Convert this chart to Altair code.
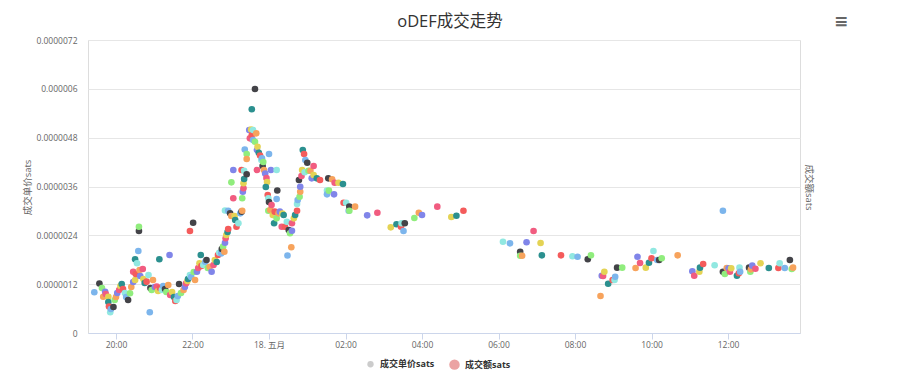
import altair as alt
import pandas as pd

FONT = "Open Sans, Noto Sans CJK SC"

title_text = "oDEF成交走势"
left_title = "成交单价sats"
right_title = "成交额sats"
legend_labels = ["成交单价sats", "成交额sats"]
legend_colors = ["#cccccc", "#eba3a3"]
palette = ["#7cb5ec", "#434348", "#90ed7d", "#f7a35c", "#8085e9",
           "#f15c80", "#e4d354", "#2b908f", "#f45b5b", "#91e8e1"]

# trade time (May 2018, local time)
times = [
    "05-17 19:26", "05-17 19:34", "05-17 19:38", "05-17 19:40", "05-17 19:43", "05-17 19:44", "05-17 19:48", "05-17 19:48",
    "05-17 19:49", "05-17 19:51", "05-17 19:52", "05-17 19:56", "05-17 19:58", "05-17 20:00", "05-17 20:02", "05-17 20:05",
    "05-17 20:07", "05-17 20:09", "05-17 20:11", "05-17 20:14", "05-17 20:16", "05-17 20:19", "05-17 20:22", "05-17 20:24",
    "05-17 20:27", "05-17 20:27", "05-17 20:30", "05-17 20:30", "05-17 20:31", "05-17 20:33", "05-17 20:35", "05-17 20:36",
    "05-17 20:36", "05-17 20:37", "05-17 20:38", "05-17 20:42", "05-17 20:43", "05-17 20:45", "05-17 20:48", "05-17 20:51",
    "05-17 20:53", "05-17 20:54", "05-17 20:56", "05-17 20:58", "05-17 21:01", "05-17 21:04", "05-17 21:06", "05-17 21:08",
    "05-17 21:09", "05-17 21:12", "05-17 21:14", "05-17 21:17", "05-17 21:19", "05-17 21:22", "05-17 21:24", "05-17 21:25",
    "05-17 21:28", "05-17 21:31", "05-17 21:33", "05-17 21:35", "05-17 21:37", "05-17 21:39", "05-17 21:42", "05-17 21:46",
    "05-17 21:48", "05-17 21:50", "05-17 21:52", "05-17 21:53", "05-17 21:56", "05-17 21:56", "05-17 21:58", "05-17 22:01",
    "05-17 22:02", "05-17 22:04", "05-17 22:07", "05-17 22:09", "05-17 22:11", "05-17 22:13", "05-17 22:14", "05-17 22:17",
    "05-17 22:20", "05-17 22:22", "05-17 22:24", "05-17 22:27", "05-17 22:30", "05-17 22:33", "05-17 22:35", "05-17 22:38",
    "05-17 22:40", "05-17 22:42", "05-17 22:45", "05-17 22:46", "05-17 22:48", "05-17 22:50", "05-17 22:51", "05-17 22:52",
    "05-17 22:53", "05-17 22:55", "05-17 22:56", "05-17 22:51", "05-17 22:56", "05-17 22:59", "05-17 23:01", "05-17 23:01",
    "05-17 23:04", "05-17 23:04", "05-17 23:06", "05-17 23:07", "05-17 23:09", "05-17 23:12", "05-17 23:15", "05-17 23:17",
    "05-17 23:18", "05-17 23:18", "05-17 23:19", "05-17 23:20", "05-17 23:20", "05-17 23:21", "05-17 23:17", "05-17 23:21",
    "05-17 23:22", "05-17 23:25", "05-17 23:25", "05-17 23:25", "05-17 23:29", "05-17 23:30", "05-17 23:32", "05-17 23:33",
    "05-17 23:33", "05-17 23:35", "05-17 23:35", "05-17 23:38", "05-17 23:38", "05-17 23:40", "05-17 23:41", "05-17 23:41",
    "05-17 23:42", "05-17 23:44", "05-17 23:46", "05-17 23:48", "05-17 23:49", "05-17 23:50", "05-17 23:51", "05-17 23:52",
    "05-17 23:54", "05-17 23:56", "05-17 23:57", "05-17 23:55", "05-17 23:58", "05-17 23:59", "05-18 00:00", "05-18 00:00",
    "05-17 23:59", "05-18 00:02", "05-18 00:03", "05-18 00:04", "05-18 00:06", "05-18 00:08", "05-18 00:09", "05-18 00:12",
    "05-18 00:12", "05-18 00:13", "05-18 00:12", "05-18 00:15", "05-18 00:17", "05-18 00:20", "05-18 00:21", "05-18 00:23",
    "05-18 00:25", "05-18 00:28", "05-18 00:29", "05-18 00:31", "05-18 00:33", "05-18 00:35", "05-18 00:36", "05-18 00:36",
    "05-18 00:39", "05-18 00:41", "05-18 00:44", "05-18 00:44", "05-18 00:45", "05-18 00:47", "05-18 00:48", "05-18 00:49",
    "05-18 00:49", "05-18 00:51", "05-18 00:52", "05-18 00:53", "05-18 00:55", "05-18 00:56", "05-18 00:57", "05-18 01:00",
    "05-18 01:02", "05-18 01:05", "05-18 01:07", "05-18 01:10", "05-18 01:10", "05-18 01:15", "05-18 01:20", "05-18 01:31",
    "05-18 01:31", "05-18 01:33", "05-18 01:34", "05-18 01:39", "05-18 01:42", "05-18 01:43", "05-18 01:49", "05-18 01:56",
    "05-18 01:57", "05-18 02:01", "05-18 02:05", "05-18 02:06", "05-18 02:06", "05-18 02:15", "05-18 02:34", "05-18 02:50",
    "05-18 03:11", "05-18 03:20", "05-18 03:27", "05-18 03:28", "05-18 03:31", "05-18 03:33", "05-18 03:48", "05-18 03:55",
    "05-18 04:00", "05-18 04:24", "05-18 04:46", "05-18 04:54", "05-18 05:05", "05-18 06:07", "05-18 06:18", "05-18 06:34",
    "05-18 06:34", "05-18 06:37", "05-18 06:44", "05-18 06:55", "05-18 07:06", "05-18 07:08", "05-18 07:38", "05-18 07:56",
    "05-18 08:04", "05-18 08:20", "05-18 08:25", "05-18 08:40", "05-18 08:42", "05-18 08:44", "05-18 08:46", "05-18 08:52",
    "05-18 08:59", "05-18 09:02", "05-18 09:03", "05-18 09:06", "05-18 09:14", "05-18 09:35", "05-18 09:38", "05-18 09:42",
    "05-18 09:51", "05-18 09:56", "05-18 10:00", "05-18 10:03", "05-18 10:09", "05-18 10:12", "05-18 10:16", "05-18 10:41",
    "05-18 11:04", "05-18 11:07", "05-18 11:15", "05-18 11:16", "05-18 11:21", "05-18 11:39", "05-18 11:52", "05-18 11:52",
    "05-18 11:55", "05-18 11:58", "05-18 12:01", "05-18 12:03", "05-18 12:05", "05-18 12:14", "05-18 12:17", "05-18 12:18",
    "05-18 12:19", "05-18 12:33", "05-18 12:35", "05-18 12:36", "05-18 12:38", "05-18 12:43", "05-18 12:51", "05-18 13:04",
    "05-18 13:19", "05-18 13:21", "05-18 13:29", "05-18 13:37", "05-18 13:40", "05-18 13:42",
]

# unit price, in millionths of a sat
price_micro = [
    1.000, 1.216, 1.106, 0.892, 1.015, 0.958, 0.892, 0.762,
    0.651, 0.509, 0.590, 0.639, 0.811, 0.885, 0.983, 1.057,
    1.155, 1.204, 1.081, 0.983, 0.885, 0.811, 0.976, 1.130,
    1.253, 1.506, 1.302, 1.811, 1.450, 1.713, 2.015, 2.506,
    2.612, 1.548, 1.401, 1.573, 1.327, 1.229, 1.261, 1.425,
    0.509, 1.106, 1.057, 1.302, 1.130, 1.138, 1.032, 1.811,
    1.106, 1.057, 1.155, 1.081, 1.007, 1.180, 1.917, 0.934,
    1.007, 0.885, 0.786, 0.811, 0.909, 1.204, 0.983, 1.057,
    1.130, 1.221, 1.278, 1.327, 2.506, 1.425, 1.376, 2.710,
    1.499, 1.302, 1.506, 1.597, 1.713, 1.917, 1.646, 1.671,
    1.752, 1.794, 1.597, 1.629, 1.506, 1.671, 1.794, 1.745,
    1.917, 1.973, 1.958, 2.064, 2.121, 1.998, 2.219, 2.327,
    2.408, 2.482, 2.556, 3.010, 3.005, 2.941, 3.703, 2.875,
    4.005, 3.310, 2.875, 2.777, 2.612, 2.696, 2.941, 2.981,
    3.310, 3.005, 3.472, 3.556, 3.679, 3.784, 4.005, 3.988,
    4.509, 3.900, 4.399, 4.276, 4.988, 4.784, 5.001, 5.497,
    4.865, 4.988, 4.743, 5.996, 4.701, 4.907, 4.497, 4.005,
    4.578, 4.430, 4.362, 4.251, 4.293, 4.104, 4.202, 4.005,
    3.919, 3.809, 3.711, 3.588, 3.391, 3.310, 4.399, 3.219,
    3.005, 3.022, 4.005, 3.145, 2.900, 2.696, 2.981, 4.005,
    3.293, 3.502, 2.818, 2.941, 2.981, 2.612, 2.936, 2.900,
    2.612, 2.735, 1.904, 2.531, 2.450, 2.106, 2.514, 2.696,
    2.818, 2.900, 3.005, 3.170, 3.268, 3.760, 3.349, 3.472,
    3.595, 3.858, 4.005, 4.497, 4.399, 3.949, 4.251, 4.185,
    3.988, 3.988, 3.801, 4.104, 3.883, 3.801, 3.760, 3.497,
    3.408, 3.801, 3.497, 3.777, 3.408, 3.693, 3.693, 3.661,
    3.202, 3.202, 3.005, 3.104, 3.005, 3.104, 2.892, 2.956,
    2.597, 2.671, 2.612, 2.696, 2.506, 2.696, 2.826, 2.956,
    2.900, 3.104, 2.850, 2.882, 3.005, 2.243, 2.204, 1.998,
    1.899, 1.899, 2.229, 2.506, 2.212, 1.909, 1.909, 1.885,
    1.875, 1.811, 1.909, 0.909, 1.408, 1.401, 1.506, 1.211,
    1.302, 1.302, 1.383, 1.605, 1.605, 1.597, 1.875, 1.720,
    1.605, 1.727, 1.836, 2.015, 1.794, 1.794, 1.836, 1.909,
    1.516, 1.408, 1.506, 1.605, 1.696, 1.664, 3.005, 1.506,
    1.450, 1.597, 1.590, 1.506, 1.590, 1.408, 1.467, 1.605,
    1.506, 1.605, 1.506, 1.565, 1.654, 1.580, 1.713, 1.597,
    1.597, 1.713, 1.597, 1.794, 1.573, 1.605,
]

y_ticks_micro = [0, 1.2, 2.4, 3.6, 4.8, 6.0, 7.2]
x_tick_times = ["05-17 20:00", "05-17 22:00", "05-18 00:00", "05-18 02:00", "05-18 04:00",
                "05-18 06:00", "05-18 08:00", "05-18 10:00", "05-18 12:00"]
x_domain_times = ["05-17 19:16:06", "05-18 13:52:54"]


def to_dt(s):
    ts = pd.Timestamp("2018-" + s)
    return alt.DateTime(year=ts.year, month=ts.month, date=ts.day,
                        hours=ts.hour, minutes=ts.minute, seconds=ts.second)


df = pd.DataFrame({
    "time": ["2018-" + t.replace(" ", "T") for t in times],
    "price": [p * 1e-6 for p in price_micro],
})
df["ci"] = [str(i % len(palette)) for i in range(len(df))]

x_enc = alt.X(
    "time:T",
    scale=alt.Scale(domain=[to_dt(t) for t in x_domain_times]),
    axis=alt.Axis(
        values=[to_dt(t) for t in x_tick_times],
        labelExpr="hours(datum.value) == 0 ? date(datum.value) + '. 五月' : timeFormat(datum.value, '%H:%M')",
        grid=False, domainColor="#ccd6eb", domainWidth=1, tickColor="#ccd6eb",
        tickSize=6, labelPadding=1, labelFontSize=8.5, labelColor="#666666",
        labelFont=FONT, labelFlush=False, title=None,
    ),
)

y_scale = alt.Scale(domain=[0, 7.2e-6], nice=False, zero=True)

points = alt.Chart(df).mark_circle(size=44, opacity=1).encode(
    x=x_enc,
    y=alt.Y(
        "price:Q", scale=y_scale,
        axis=alt.Axis(
            values=[v * 1e-6 for v in y_ticks_micro],
            labelExpr="datum.value == 0 ? '0' : replace(format(datum.value, '.7f'), regexp('0+$'), '')",
            grid=True, gridColor="#e6e6e6", gridWidth=1, domain=False, ticks=False, tickSize=0,
            labelPadding=11, labelFontSize=8.5, labelColor="#666666", labelFont=FONT,
            title=left_title, titleFont=FONT, titleFontSize=9.5, titleFontWeight="normal",
            titleColor="#666666", titleAngle=270, titleX=-61, titleY=147,
            titleBaseline="middle", titleAlign="center",
        ),
    ),
    color=alt.Color("ci:N", scale=alt.Scale(domain=[str(i) for i in range(len(palette))], range=palette),
                    legend=None),
)

leg_df = pd.DataFrame({
    "series": legend_labels,
    "time": [df["time"].iloc[0]] * len(legend_labels),
    "price": [0.0] * len(legend_labels),
})

legend_spec = dict(title=None, orient="none", legendX=278, legendY=319,
                   direction="horizontal", labelFont=FONT, labelFontSize=9,
                   labelFontWeight="bold", labelColor="#333333",
                   columnPadding=14, labelOffset=5, symbolType="circle",
                   symbolStrokeWidth=0)

legend_layer = alt.Chart(leg_df).transform_filter("false").mark_circle(opacity=1).encode(
    x=x_enc,
    y=alt.Y(
        "price:Q", scale=y_scale,
        axis=alt.Axis(
            orient="right", labels=False, ticks=False, domain=False, grid=False,
            title=right_title, titleFont=FONT, titleFontSize=9.5, titleFontWeight="normal",
            titleColor="#666666", titleAngle=90, titleX=8, titleY=147,
            titleBaseline="middle", titleAlign="center",
        ),
    ),
    color=alt.Color("series:N", scale=alt.Scale(domain=legend_labels, range=legend_colors),
                    legend=alt.Legend(**legend_spec)),
    size=alt.Size("series:N", scale=alt.Scale(domain=legend_labels, range=[40, 110]),
                  legend=alt.Legend(**legend_spec)),
)

icon = alt.Chart(pd.DataFrame({"icon": ["≡"]})).mark_text(
    font="DejaVu Sans", fontSize=17, fontWeight="bold", color="#666666"
).encode(text="icon:N", x=alt.value(753), y=alt.value(-18))

chart = alt.layer(points, legend_layer, icon).resolve_scale(
    color="independent", size="independent"
).resolve_axis(y="independent").properties(
    width=712, height=293,
    autosize=alt.AutoSizeParams(type="none"),
    padding={"left": 80, "top": 32, "right": 92, "bottom": 42},
    title=alt.TitleParams(title_text, font=FONT, fontSize=16.5, fontWeight="normal",
                          color="#333333", offset=-17, dx=6, anchor="middle"),
).configure_view(stroke=None).configure(background="white")

chart.save("out.html", embed_options={"renderer": "svg", "actions": False})
